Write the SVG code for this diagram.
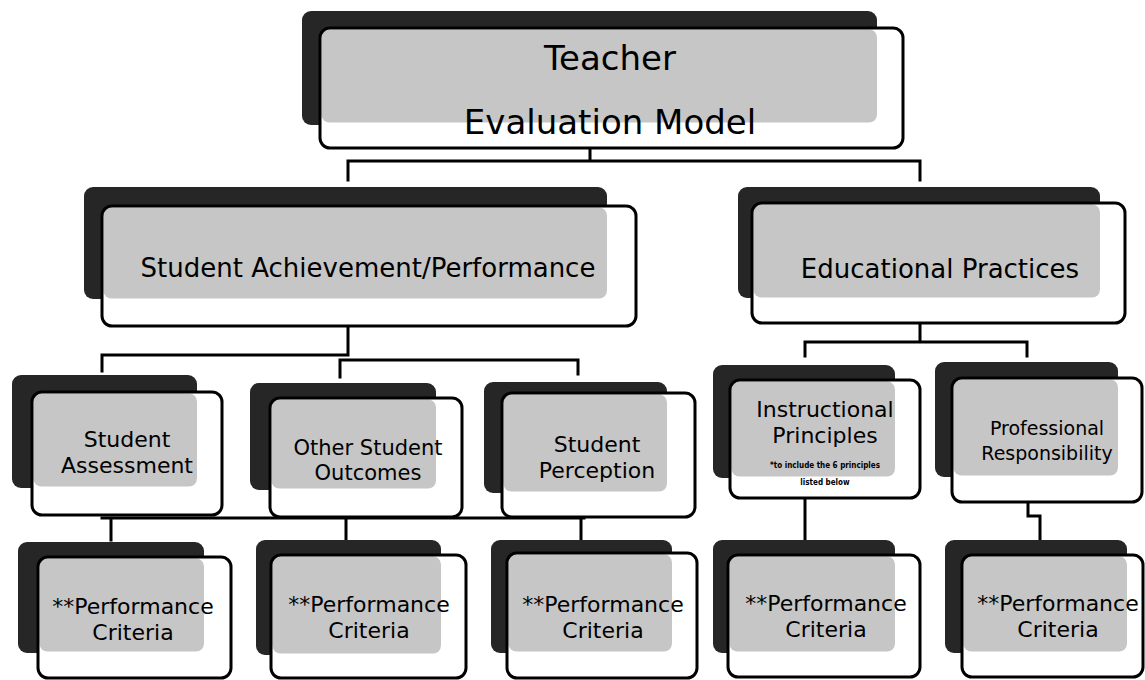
<svg xmlns="http://www.w3.org/2000/svg" width="1145" height="680" viewBox="0 0 1145 680">
<style>
.back{fill:#262626}
.front{fill:#ffffff}
.shade{fill:#c6c6c6}
.outline{fill:none;stroke:#000;stroke-width:3}
.conn{fill:none;stroke:#000;stroke-width:3;stroke-linecap:square}
text{font-family:"DejaVu Sans","Liberation Sans",sans-serif;fill:#000;text-anchor:middle}
.t1{font-size:34px}
.t2{font-size:26px}
.t3{font-size:22px}
.t3s{font-size:21px}
.t4{font-size:19px}
.t5{font-family:"DejaVu Sans Condensed","DejaVu Sans",sans-serif;font-size:8px;font-weight:bold}
</style>
<rect width="1145" height="680" fill="#fff"/>
<g id="connectors">
<path class="conn" d="M590 149V161M348 180V161H920V180"/>
<path class="conn" d="M102 371V355H348V327M340 377V360H578V374"/>
<path class="conn" d="M920 323V342M805 356V342H1027V356"/>
<path class="conn" d="M102 518H584M111 518V540M346 518V540M581 518V540"/>
<path class="conn" d="M805 498V540"/>
<path class="conn" d="M1028 502V516H1040V540"/>
</g>
<g id="n-top">
<rect class="back" x="302" y="11" width="575" height="114" rx="9"/>
<rect class="front" x="320" y="28" width="583" height="120" rx="10"/>
<rect class="shade" x="321.5" y="29.5" width="555.5" height="93" rx="8"/>
<rect class="outline" x="320" y="28" width="583" height="120" rx="10"/>
<text class="t1" x="610" y="70">Teacher</text>
<text class="t1" x="610" y="134">Evaluation Model</text>
</g>
<g id="n-sa">
<rect class="back" x="84" y="187" width="523" height="112" rx="9"/>
<rect class="front" x="102" y="206" width="534" height="120" rx="10"/>
<rect class="shade" x="103.5" y="207.5" width="503.5" height="91" rx="8"/>
<rect class="outline" x="102" y="206" width="534" height="120" rx="10"/>
<text class="t2" x="368" y="277">Student Achievement/Performance</text>
</g>
<g id="n-ep">
<rect class="back" x="738" y="187" width="362" height="111" rx="9"/>
<rect class="front" x="752" y="203" width="373" height="120" rx="10"/>
<rect class="shade" x="753.5" y="204.5" width="346.5" height="93" rx="8"/>
<rect class="outline" x="752" y="203" width="373" height="120" rx="10"/>
<text class="t2" x="940" y="278">Educational Practices</text>
</g>
<g id="n-assess">
<rect class="back" x="12" y="375" width="185" height="113" rx="9"/>
<rect class="front" x="32" y="392" width="190" height="123" rx="10"/>
<rect class="shade" x="33.5" y="393.5" width="163.5" height="93" rx="8"/>
<rect class="outline" x="32" y="392" width="190" height="123" rx="10"/>
<text class="t3" x="127" y="447">Student</text>
<text class="t3" x="127" y="473">Assessment</text>
</g>
<g id="n-oso">
<rect class="back" x="250" y="383" width="186" height="107" rx="9"/>
<rect class="front" x="270" y="398" width="192" height="119" rx="10"/>
<rect class="shade" x="271.5" y="399.5" width="164.5" height="89" rx="8"/>
<rect class="outline" x="270" y="398" width="192" height="119" rx="10"/>
<text class="t3s" x="368" y="455">Other Student</text>
<text class="t3s" x="368" y="480">Outcomes</text>
</g>
<g id="n-sp">
<rect class="back" x="484" y="382" width="183" height="111" rx="9"/>
<rect class="front" x="502" y="393" width="193" height="124" rx="10"/>
<rect class="shade" x="503.5" y="394.5" width="163.5" height="97" rx="8"/>
<rect class="outline" x="502" y="393" width="193" height="124" rx="10"/>
<text class="t3" x="597" y="452">Student</text>
<text class="t3" x="597" y="478">Perception</text>
</g>
<g id="n-ip">
<rect class="back" x="713" y="365" width="182" height="113" rx="9"/>
<rect class="front" x="730" y="380" width="190" height="118" rx="10"/>
<rect class="shade" x="731.5" y="381.5" width="163.5" height="95" rx="8"/>
<rect class="outline" x="730" y="380" width="190" height="118" rx="10"/>
<text class="t3" x="825" y="417">Instructional</text>
<text class="t3" x="825" y="443">Principles</text>
<text class="t5" x="825" y="468">*to include the 6 principles</text>
<text class="t5" x="825" y="485">listed below</text>
</g>
<g id="n-pr">
<rect class="back" x="935" y="362" width="183" height="115" rx="9"/>
<rect class="front" x="952" y="378" width="190" height="124" rx="10"/>
<rect class="shade" x="953.5" y="379.5" width="164.5" height="96" rx="8"/>
<rect class="outline" x="952" y="378" width="190" height="124" rx="10"/>
<text class="t4" x="1047" y="435">Professional</text>
<text class="t4" x="1047" y="460">Responsibility</text>
</g>
<g id="n-pc1">
<rect class="back" x="18" y="542" width="186" height="111" rx="9"/>
<rect class="front" x="38" y="557" width="193" height="121" rx="10"/>
<rect class="shade" x="39.5" y="558.5" width="164.5" height="93" rx="8"/>
<rect class="outline" x="38" y="557" width="193" height="121" rx="10"/>
<text class="t3" x="133" y="614">**Performance</text>
<text class="t3" x="133" y="640">Criteria</text>
</g>
<g id="n-pc2">
<rect class="back" x="256" y="540" width="185" height="115" rx="9"/>
<rect class="front" x="271" y="555" width="195" height="123" rx="10"/>
<rect class="shade" x="272.5" y="556.5" width="168.5" height="97" rx="8"/>
<rect class="outline" x="271" y="555" width="195" height="123" rx="10"/>
<text class="t3" x="369" y="612">**Performance</text>
<text class="t3" x="369" y="638">Criteria</text>
</g>
<g id="n-pc3">
<rect class="back" x="491" y="540" width="181" height="113" rx="9"/>
<rect class="front" x="507" y="553" width="190" height="125" rx="10"/>
<rect class="shade" x="508.5" y="554.5" width="163.5" height="97" rx="8"/>
<rect class="outline" x="507" y="553" width="190" height="125" rx="10"/>
<text class="t3" x="603" y="612">**Performance</text>
<text class="t3" x="603" y="638">Criteria</text>
</g>
<g id="n-pc4">
<rect class="back" x="713" y="540" width="182" height="113" rx="9"/>
<rect class="front" x="728" y="555" width="192" height="122" rx="10"/>
<rect class="shade" x="729.5" y="556.5" width="165.5" height="95" rx="8"/>
<rect class="outline" x="728" y="555" width="192" height="122" rx="10"/>
<text class="t3" x="826" y="611">**Performance</text>
<text class="t3" x="826" y="637">Criteria</text>
</g>
<g id="n-pc5">
<rect class="back" x="945" y="540" width="182" height="113" rx="9"/>
<rect class="front" x="962" y="555" width="181" height="122" rx="10"/>
<rect class="shade" x="963.5" y="556.5" width="163.5" height="95" rx="8"/>
<rect class="outline" x="962" y="555" width="181" height="122" rx="10"/>
<text class="t3" x="1058" y="611">**Performance</text>
<text class="t3" x="1058" y="637">Criteria</text>
</g>
</svg>
